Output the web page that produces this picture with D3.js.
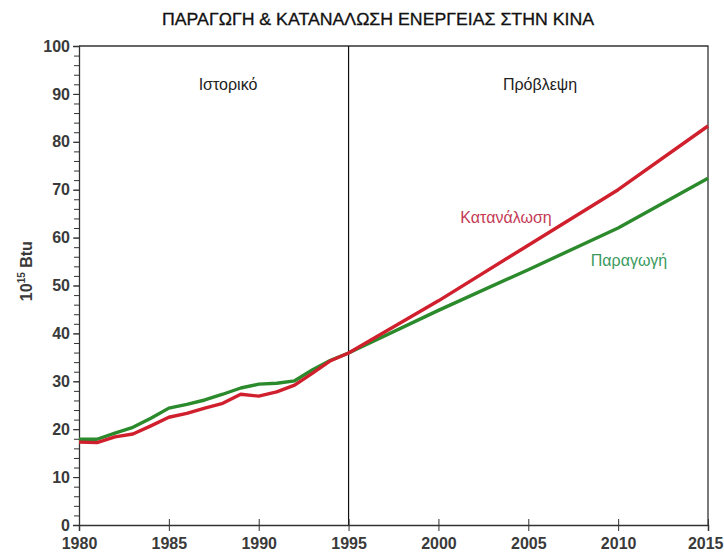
<!DOCTYPE html>
<html>
<head>
<meta charset="utf-8">
<script src="https://cdn.jsdelivr.net/npm/d3@7"></script>
<style>
  body { margin: 0; background: #fff; }
  .chart text { font-family: "Liberation Sans", Arial, sans-serif; }
</style>
</head>
<body>
<div class="chart"></div>
<script>
// values (10^15 Btu)
const years = [1980, 1981, 1982, 1983, 1984, 1985, 1986, 1987, 1988, 1989, 1990, 1991, 1992, 1993, 1994, 1995, 2000, 2005, 2010, 2015]
const production = [17.9, 17.9, 19.2, 20.4, 22.3, 24.4, 25.2, 26.1, 27.3, 28.6, 29.4, 29.6, 30.1, 32.4, 34.4, 35.9, 44.8, 53.3, 62.0, 72.4]
const consumption = [17.3, 17.2, 18.4, 19.0, 20.7, 22.5, 23.3, 24.4, 25.4, 27.3, 26.9, 27.8, 29.2, 31.7, 34.3, 35.9, 46.8, 58.4, 70.0, 83.3]
const xTicks = [1980, 1985, 1990, 1995, 2000, 2005, 2010, 2015]
const yTicks = [0, 10, 20, 30, 40, 50, 60, 70, 80, 90, 100]
const splitYear = 1995

const width = 724
const height = 556
const margin = {top: 46, right: 16, bottom: 31, left: 79}

const svg = d3.select('.chart')
  .append('svg')
  .attr('width', width)
  .attr('height', height)

const x = d3.scaleLinear()
  .domain([1980, 2015])
  .range([margin.left, width - margin.right])

const y = d3.scaleLinear()
  .domain([0, 100])
  .range([height - margin.bottom, margin.top])

// title
svg.append('text')
  .attr('x', 378)
  .attr('y', 25)
  .attr('text-anchor', 'middle')
  .attr('textLength', 432)
  .attr('lengthAdjust', 'spacingAndGlyphs')
  .style('font-size', '17px')
  .style('fill', '#111')
  .style('stroke', '#111')
  .style('stroke-width', 0.3)
  .text('ΠΑΡΑΓΩΓΗ & ΚΑΤΑΝΑΛΩΣΗ ΕΝΕΡΓΕΙΑΣ ΣΤΗΝ ΚΙΝΑ')

// frame (top + right)
svg.append('path')
  .attr('d', `M${x(1980)},${y(100)}H${x(2015)}V${y(0)}`)
  .attr('fill', 'none')
  .attr('stroke', '#333')
  .attr('stroke-width', 1.3)

// split line historical / forecast
svg.append('line')
  .attr('x1', x(splitYear)).attr('x2', x(splitYear))
  .attr('y1', y(100)).attr('y2', y(0))
  .attr('stroke', '#111')
  .attr('stroke-width', 1.2)

// y axis, minor ticks every 2
const yMinor = svg.append('g')
  .attr('transform', `translate(${x(1980)},0)`)
  .call(d3.axisLeft(y).tickValues(d3.range(0, 101, 2)).tickSize(5).tickFormat(''))
yMinor.select('.domain').remove()
yMinor.selectAll('line').attr('stroke', '#333')

const yAxis = svg.append('g')
  .attr('transform', `translate(${x(1980)},0)`)
  .call(d3.axisLeft(y).tickValues(yTicks).tickSize(6).tickPadding(3))
yAxis.select('.domain').attr('stroke', '#333').attr('stroke-width', 1.3)
yAxis.selectAll('line').attr('stroke', '#333')
yAxis.selectAll('text')
  .style('font-size', '16px')
  .style('font-weight', 'bold')
  .style('fill', '#3a3a3a')
  .attr('font-family', null)

// x axis, ticks cross the line
const xAxis = svg.append('g')
  .attr('transform', `translate(0,${y(0)})`)
  .call(d3.axisBottom(x).tickValues(xTicks).tickSize(6).tickPadding(7).tickFormat(d3.format('d')))
xAxis.select('.domain').attr('stroke', '#333').attr('stroke-width', 1.5)
xAxis.selectAll('line').attr('y1', -6).attr('stroke', '#333')
xAxis.selectAll('text')
  .style('font-size', '16px')
  .style('font-weight', 'bold')
  .style('fill', '#3a3a3a')
  .attr('font-family', null)
// last label sits against the right edge
xAxis.selectAll('.tick')
  .filter(d => d === 2015)
  .select('text')
  .attr('text-anchor', 'end')
  .attr('dx', 15)

// y axis label
const yLabel = svg.append('text')
  .attr('transform', `translate(32,${y(53)}) rotate(-90)`)
  .attr('text-anchor', 'middle')
  .style('font-size', '16px')
  .style('font-weight', 'bold')
  .style('fill', '#3a3a3a')
yLabel.append('tspan').text('10')
yLabel.append('tspan').attr('dy', -7).style('font-size', '10px').text('15')
yLabel.append('tspan').attr('dy', 7).text(' Btu')

// section labels
svg.append('text')
  .attr('x', 228).attr('y', 90)
  .attr('text-anchor', 'middle')
  .style('font-size', '16px')
  .style('fill', '#222')
  .text('Ιστορικό')

svg.append('text')
  .attr('x', 540).attr('y', 90)
  .attr('text-anchor', 'middle')
  .style('font-size', '16px')
  .style('fill', '#222')
  .text('Πρόβλεψη')

// series
const line = d3.line()
  .x(d => x(d[0]))
  .y(d => y(d[1]))

svg.append('path')
  .datum(d3.zip(years, production))
  .attr('fill', 'none')
  .attr('stroke', '#2b8a2b')
  .attr('stroke-width', 3.4)
  .attr('stroke-linejoin', 'round')
  .attr('d', line)

svg.append('path')
  .datum(d3.zip(years, consumption))
  .attr('fill', 'none')
  .attr('stroke', '#d0202e')
  .attr('stroke-width', 3.4)
  .attr('stroke-linejoin', 'round')
  .attr('d', line)

// series labels
svg.append('text')
  .attr('x', 506).attr('y', 223)
  .attr('text-anchor', 'middle')
  .style('font-size', '16px')
  .style('fill', '#c43a55')
  .text('Κατανάλωση')

svg.append('text')
  .attr('x', 629).attr('y', 266)
  .attr('text-anchor', 'middle')
  .style('font-size', '16px')
  .style('fill', '#3a9a5e')
  .text('Παραγωγή')
</script>
</body>
</html>
